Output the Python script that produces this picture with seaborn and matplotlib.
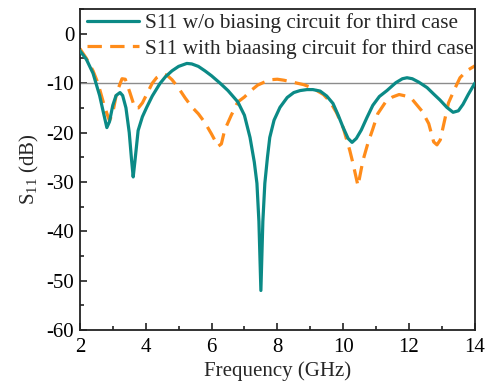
import numpy as np
import pandas as pd
import matplotlib
matplotlib.use("Agg")
import matplotlib.pyplot as plt
from matplotlib.ticker import MultipleLocator
import seaborn as sns

# ---- data ----
freq_a = [2.0, 2.2, 2.4, 2.6, 2.7, 2.82, 2.9, 3.0, 3.1, 3.22, 3.3, 3.4, 3.5, 3.57, 3.62, 3.67,
          3.77, 3.9, 4.03, 4.2, 4.43, 4.6, 4.8, 5.0, 5.25, 5.4, 5.6, 5.8, 6.0, 6.26, 6.5,
          6.8, 7.0, 7.17, 7.3, 7.38, 7.44, 7.5, 7.56, 7.62, 7.7, 7.77, 7.9, 8.08, 8.3, 8.5,
          8.69, 8.9, 9.08, 9.3, 9.5, 9.69, 9.85, 10.0, 10.15, 10.27, 10.4, 10.55, 10.72,
          10.9, 11.1, 11.33, 11.6, 11.8, 11.94, 12.1, 12.3, 12.55, 12.75, 12.94, 13.15,
          13.34, 13.5, 13.64, 13.8, 14.0]
s11_without = [-3.4, -5.2, -8.0, -12.5, -15.5, -19.0, -17.8, -14.5, -12.5, -11.9, -12.5,
               -15.0, -20.0, -25.5, -29.0, -26.0, -19.6, -16.8, -14.9, -12.6, -10.1, -8.7,
               -7.5, -6.6, -6.0, -6.1, -6.6, -7.5, -8.5, -10.0, -11.5, -13.8, -16.5, -21.0,
               -26.0, -30.3, -38.0, -52.0, -38.0, -30.3, -25.0, -21.0, -17.5, -14.9, -12.9,
               -11.9, -11.5, -11.3, -11.3, -11.6, -12.6, -14.1, -16.5, -19.0, -21.2, -22.0,
               -21.2, -19.5, -17.0, -14.5, -12.7, -11.5, -9.9, -9.1, -8.9, -9.1, -9.8, -10.9,
               -12.2, -13.4, -14.9, -15.9, -15.6, -14.3, -12.3, -10.0]

freq_b = [2.0, 2.2, 2.4, 2.55, 2.76, 2.9, 3.0, 3.12, 3.28, 3.38, 3.52, 3.67, 3.78, 3.9,
          4.05, 4.2, 4.33, 4.5, 4.65, 4.8, 5.0, 5.2, 5.4, 5.6, 5.8, 6.0, 6.2, 6.3, 6.4, 6.6,
          6.8, 7.0, 7.2, 7.4, 7.6, 7.8, 8.0, 8.2, 8.4, 8.6, 8.8, 9.0, 9.2, 9.4, 9.6, 9.8,
          10.0, 10.2, 10.3, 10.45, 10.6, 10.75, 10.9, 11.05, 11.3, 11.5, 11.7, 11.9, 12.1,
          12.4, 12.6, 12.75, 12.85, 12.95, 13.05, 13.2, 13.4, 13.55, 13.75, 14.0]
s11_with = [-3.0, -5.0, -7.5, -10.0, -15.0, -17.6, -16.0, -11.9, -9.1, -9.2, -11.9, -15.0,
            -15.0, -14.0, -12.0, -10.0, -8.9, -8.2, -8.4, -9.3, -11.0, -13.0, -14.8, -16.2,
            -18.0, -20.3, -22.8, -22.3, -19.5, -16.5, -13.8, -12.8, -11.5, -10.4, -9.8,
            -9.3, -9.2, -9.4, -9.7, -10.0, -10.3, -10.8, -11.5, -12.3, -13.7, -16.0, -19.0,
            -23.6, -26.3, -30.8, -25.7, -22.2, -19.3, -16.2, -13.7, -12.8, -12.3, -12.6,
            -13.3, -15.7, -18.2, -21.9, -22.5, -21.5, -18.5, -14.0, -11.0, -8.9, -7.5, -6.5]

labels = ["S11 w/o biasing circuit for third case",
          "S11 with biaasing circuit for third case"]
x_ticks = [2, 4, 6, 8, 10, 12, 14]
y_ticks = [0, -10, -20, -30, -40, -50, -60]

# ---- styling ----
sns.set_style("ticks")
plt.rcParams["font.family"] = ["Liberation Serif", "DejaVu Serif"]
plt.rcParams["mathtext.fontset"] = "custom"
plt.rcParams["mathtext.rm"] = "Liberation Serif"
plt.rcParams["mathtext.it"] = "Liberation Serif:italic"
plt.rcParams["axes.unicode_minus"] = False

fig = plt.figure(figsize=(4.9, 3.81), dpi=100)
ax = fig.add_axes([0.163, 0.134, 0.806, 0.842])

df_a = pd.DataFrame({"f": freq_a, "s": s11_without})
df_b = pd.DataFrame({"f": freq_b, "s": s11_with})

ax.axhline(-10, color="#8c8c8c", lw=1.0, zorder=1)
sns.lineplot(data=df_a, x="f", y="s", ax=ax, color="#0b8a86", lw=2.3,
             label=labels[0], sort=False, zorder=3)
sns.lineplot(data=df_b, x="f", y="s", ax=ax, color="#ff8c1a", lw=2.3,
             label=labels[1], sort=False, zorder=2)
ax.lines[-1].set_dashes((4.5, 2.6))

ax.set_xlim(2, 14)
ax.set_ylim(-60, 5)
ax.set_xticks(x_ticks)
ax.set_yticks(y_ticks)
ax.xaxis.set_minor_locator(MultipleLocator(1))
ax.yaxis.set_minor_locator(MultipleLocator(5))
ax.tick_params(which="both", direction="in", top=False, right=False,
               labelsize=15, width=1.2, colors="#222222", labelcolor="black")
ax.tick_params(which="major", length=5)
ax.tick_params(axis="x", which="major", pad=6)
ax.tick_params(axis="y", which="major", pad=4)
ax.tick_params(which="minor", length=3)
for sp in ax.spines.values():
    sp.set_linewidth(1.3)
    sp.set_color("#222222")

ax.set_xlabel("Frequency (GHz)", fontsize=15, labelpad=3)
ax.set_ylabel("S$_{11}$ (dB)", fontsize=15, labelpad=4)

leg = ax.legend(loc="upper left", bbox_to_anchor=(0.008, 1.0), frameon=False,
                fontsize=15.3, handlelength=2.45, handletextpad=0.25,
                labelspacing=0.25, borderaxespad=0.1, borderpad=0.1)

fig.savefig("out.png", dpi=100)
